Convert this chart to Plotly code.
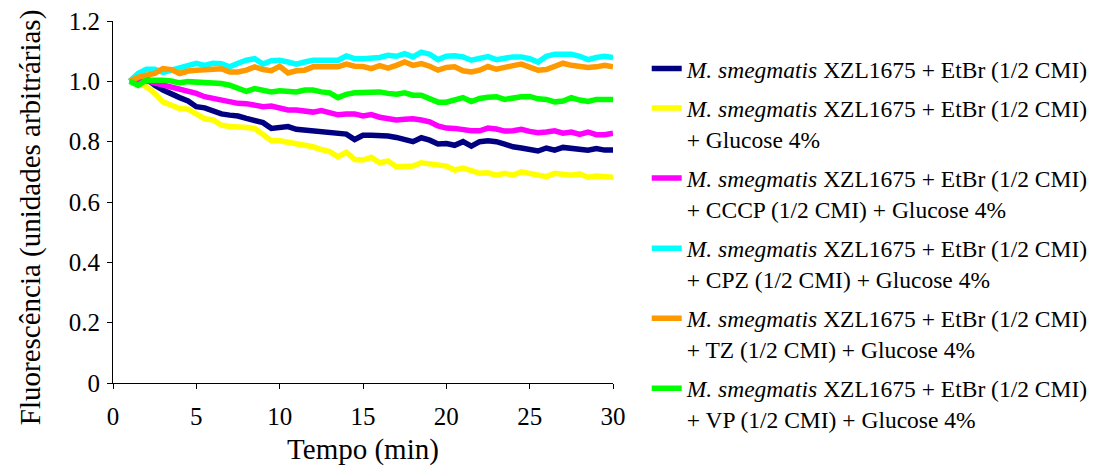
import plotly.graph_objects as go

time_min = [1, 1.5, 2, 2.5, 3, 3.5, 4, 4.5, 5, 5.5, 6, 6.5, 7, 7.5,
            8, 8.5, 9, 9.5, 10, 10.5, 11, 11.5, 12, 12.5, 13, 13.5, 14, 14.5, 15,
            15.5, 16, 16.5, 17, 17.5, 18, 18.5, 19, 19.5, 20, 20.5, 21, 21.5, 22, 22.5,
            23, 23.5, 24, 24.5, 25, 25.5, 26, 26.5, 27, 27.5, 28, 28.5, 29, 29.5, 30]

etbr = [1.0, 1.009, 1.009, 0.987, 0.971, 0.957, 0.946, 0.935, 0.916, 0.912, 0.9, 0.892, 0.888, 0.885,
        0.877, 0.87, 0.863, 0.844, 0.847, 0.85, 0.841, 0.839, 0.836, 0.834, 0.832, 0.83, 0.825, 0.807, 0.821,
        0.821, 0.821, 0.819, 0.814, 0.805, 0.8, 0.813, 0.805, 0.792, 0.794, 0.788, 0.8, 0.785, 0.8, 0.803,
        0.8, 0.792, 0.783, 0.779, 0.772, 0.769, 0.779, 0.772, 0.781, 0.779, 0.777, 0.772, 0.777, 0.772, 0.772]

etbr_glucose = [1.0, 0.995, 0.982, 0.96, 0.932, 0.923, 0.91, 0.908, 0.894, 0.876, 0.872, 0.855, 0.85, 0.85,
                0.847, 0.844, 0.822, 0.803, 0.803, 0.798, 0.792, 0.789, 0.783, 0.774, 0.767, 0.75, 0.765, 0.741, 0.739,
                0.748, 0.73, 0.736, 0.717, 0.718, 0.719, 0.73, 0.726, 0.723, 0.719, 0.706, 0.712, 0.704, 0.695, 0.697,
                0.689, 0.695, 0.689, 0.7, 0.695, 0.689, 0.684, 0.695, 0.693, 0.689, 0.693, 0.682, 0.686, 0.686, 0.682]

etbr_cccp = [1.0, 1.006, 1.002, 0.995, 0.99, 0.982, 0.973, 0.969, 0.96, 0.949, 0.943, 0.94, 0.935, 0.927,
             0.926, 0.923, 0.916, 0.918, 0.91, 0.905, 0.905, 0.9, 0.898, 0.903, 0.896, 0.889, 0.892, 0.892, 0.885,
             0.89, 0.881, 0.878, 0.872, 0.874, 0.876, 0.872, 0.866, 0.852, 0.845, 0.844, 0.839, 0.836, 0.836, 0.845,
             0.842, 0.835, 0.836, 0.841, 0.834, 0.83, 0.832, 0.836, 0.828, 0.832, 0.824, 0.832, 0.823, 0.823, 0.828]

etbr_cpz = [1.0, 1.026, 1.04, 1.04, 1.03, 1.037, 1.045, 1.05, 1.06, 1.053, 1.06, 1.058, 1.048, 1.06,
            1.07, 1.075, 1.057, 1.068, 1.07, 1.064, 1.057, 1.064, 1.07, 1.07, 1.068, 1.07, 1.084, 1.075, 1.075,
            1.075, 1.079, 1.086, 1.083, 1.092, 1.081, 1.097, 1.09, 1.072, 1.083, 1.085, 1.081, 1.07, 1.075, 1.082,
            1.072, 1.078, 1.081, 1.081, 1.075, 1.064, 1.083, 1.09, 1.092, 1.09, 1.083, 1.072, 1.079, 1.083, 1.079]

etbr_tz = [1.0, 1.013, 1.02, 1.026, 1.042, 1.039, 1.026, 1.034, 1.037, 1.039, 1.042, 1.042, 1.031, 1.031,
           1.037, 1.048, 1.039, 1.035, 1.05, 1.028, 1.035, 1.037, 1.048, 1.048, 1.046, 1.048, 1.057, 1.05, 1.049,
           1.042, 1.052, 1.044, 1.053, 1.064, 1.053, 1.059, 1.05, 1.037, 1.046, 1.048, 1.035, 1.031, 1.037, 1.049,
           1.04, 1.048, 1.052, 1.057, 1.048, 1.037, 1.039, 1.05, 1.06, 1.053, 1.048, 1.046, 1.048, 1.053, 1.048]

etbr_vp = [1.0, 0.987, 1.004, 1.006, 1.004, 1.001, 0.995, 0.999, 0.998, 0.995, 0.995, 0.993, 0.987, 0.978,
           0.967, 0.976, 0.971, 0.965, 0.969, 0.969, 0.965, 0.971, 0.971, 0.965, 0.962, 0.946, 0.957, 0.962, 0.964,
           0.965, 0.965, 0.96, 0.957, 0.962, 0.954, 0.954, 0.94, 0.931, 0.931, 0.94, 0.946, 0.933, 0.943, 0.947,
           0.949, 0.94, 0.946, 0.949, 0.95, 0.942, 0.94, 0.932, 0.935, 0.946, 0.938, 0.933, 0.94, 0.94, 0.94]

base = "<i>M. smegmatis</i> XZL1675 + EtBr (1/2 CMI)"
series_names = [
    base,
    base + "<br>+ Glucose 4%",
    base + "<br>+ CCCP (1/2 CMI) + Glucose 4%",
    base + "<br>+ CPZ (1/2 CMI) + Glucose 4%",
    base + "<br>+ TZ (1/2 CMI) + Glucose 4%",
    base + "<br>+ VP (1/2 CMI) + Glucose 4%",
]
series_values = [etbr, etbr_glucose, etbr_cccp, etbr_cpz, etbr_tz, etbr_vp]
series_colors = ["#000080", "#FFFF00", "#FF00FF", "#00FFFF", "#FF9900", "#00FF00"]

y_tickvals = [0, 0.2, 0.4, 0.6, 0.8, 1.0, 1.2]
y_ticktext = ["0", "0.2", "0.4", "0.6", "0.8", "1.0", "1.2"]
x_tickvals = [0, 5, 10, 15, 20, 25, 30]

x_title = "Tempo (min)"
y_title = "Fluorescência (unidades arbitrárias)"

FONT = "Liberation Serif"

fig = go.Figure()
for i, (name, vals, col) in enumerate(zip(series_names, series_values, series_colors)):
    fig.add_trace(go.Scatter(
        x=time_min, y=vals, mode="lines", name=name,
        line=dict(color=col, width=5.5),
        legendgroup=f"g{i}",
    ))

# y-axis title placed as rotated text so it can sit slightly below the axis centre, like the original
fig.add_annotation(
    xref="paper", yref="paper", x=-0.166, y=0.458, xanchor="center", yanchor="middle",
    text=y_title, textangle=-90, showarrow=False,
    font=dict(family=FONT, size=29, color="black"),
)

fig.update_layout(
    width=1098, height=466,
    margin=dict(l=113, r=485, t=21, b=83),
    paper_bgcolor="white", plot_bgcolor="white",
    font=dict(family=FONT, color="black", size=24),
    showlegend=True,
    legend=dict(
        xref="container", yref="container",
        x=0.589, y=0.9, xanchor="left", yanchor="top",
        font=dict(family=FONT, size=23.5, color="black"),
        itemwidth=30, tracegroupgap=6, valign="top",
        maxheight=460,
        bgcolor="rgba(0,0,0,0)",
    ),
    xaxis=dict(
        range=[0, 30], tickvals=x_tickvals, showgrid=False, zeroline=False,
        showline=True, linecolor="black", linewidth=1,
        ticks="outside", ticklen=5, tickcolor="black",
        tickfont=dict(family=FONT, size=25),
        ticklabelstandoff=6, automargin=False,
        title=dict(text=x_title, font=dict(family=FONT, size=29), standoff=11),
    ),
    yaxis=dict(
        range=[0, 1.2], tickvals=y_tickvals, ticktext=y_ticktext, showgrid=False, zeroline=False,
        showline=True, linecolor="black", linewidth=1,
        ticks="outside", ticklen=5, tickcolor="black",
        tickfont=dict(family=FONT, size=25),
        ticklabelstandoff=2, automargin=False,
    ),
)

fig.write_html("out.html")
